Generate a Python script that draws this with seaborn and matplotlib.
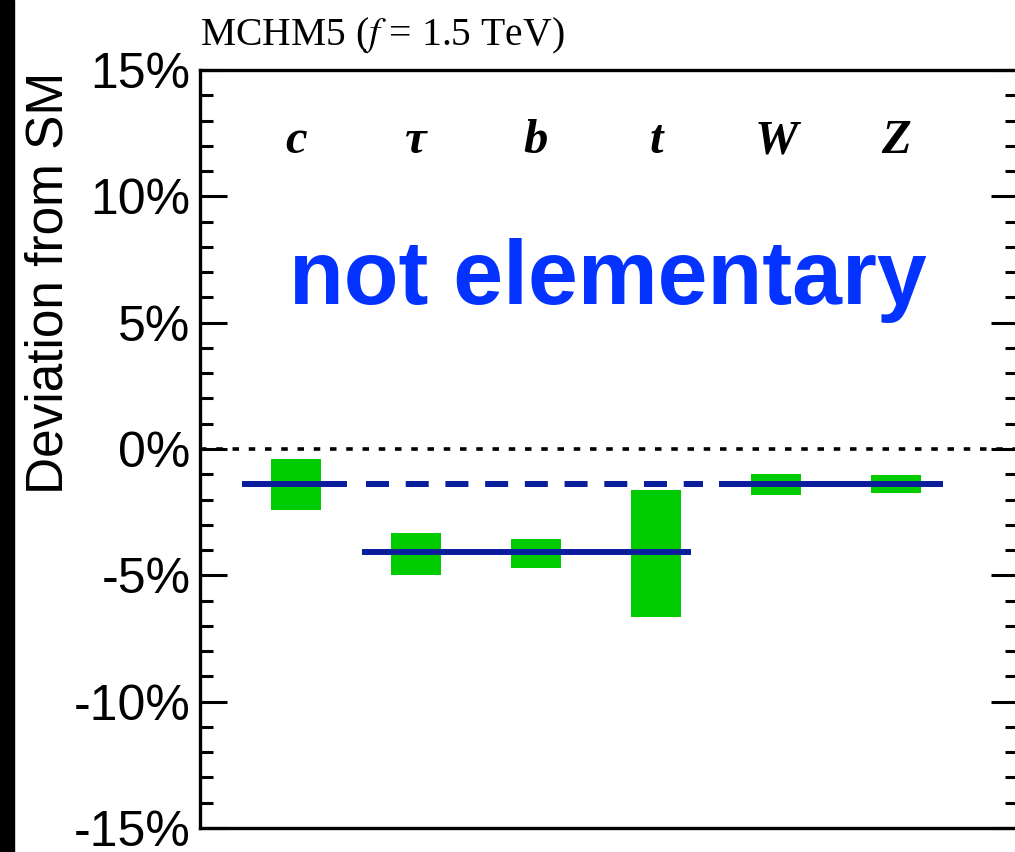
import matplotlib
matplotlib.use("Agg")
import matplotlib.pyplot as plt
from matplotlib.patches import Rectangle
from matplotlib.ticker import MultipleLocator, FuncFormatter
import seaborn as sns
import pandas as pd

# Coupling deviations from the Standard Model (percent), MCHM5 with f = 1.5 TeV
couplings = ["c", "τ", "b", "t", "W", "Z"]
range_top = [-0.40, -3.32, -3.56, -1.62, -0.99, -1.03]
range_bottom = [-2.41, -4.99, -4.70, -6.64, -1.82, -1.73]

# Model predictions: one universal shift and one shared by tau, b and t
pred_universal = -1.37
pred_third = -4.08

y_ticks = [-15, -10, -5, 0, 5, 10, 15]

sns.set_theme(style="ticks")
plt.rcParams["font.family"] = ["Liberation Sans", "DejaVu Sans"]
plt.rcParams["mathtext.fontset"] = "stix"

GREEN = "#00CC00"
LINE_BLUE = "#0A1E9C"
TEXT_BLUE = "#0433FF"

fig = plt.figure(figsize=(10.15, 8.52), dpi=100)
ax = fig.add_axes([200 / 1015, 1 - 828 / 852, 818 / 1015, 758 / 852])

df = pd.DataFrame({
    "coupling": couplings,
    "span": [t - b for t, b in zip(range_top, range_bottom)],
    "low": range_bottom,
})
sns.barplot(data=df, x="coupling", y="span", color=GREEN, saturation=1,
            width=0.41, ax=ax, zorder=2)
for patch, lo in zip(ax.patches, df["low"]):
    patch.set_y(lo)
    patch.set_edgecolor("none")

# SM reference
ax.axhline(0, color="black", lw=2.6, ls=(0, (1.8, 2.7)), zorder=1,
           dash_capstyle="butt")

# Prediction lines
lw_pred = 4.3
ax.hlines(pred_universal, 0 - 0.45, 0 + 0.425, color=LINE_BLUE, lw=lw_pred, zorder=3)
ax.hlines(pred_universal, 0 + 0.585, 3 + 0.39, color=LINE_BLUE, lw=lw_pred,
          linestyles=[(0, (3.85, 2.8))], zorder=3)
ax.hlines(pred_universal, 4 - 0.475, 5 + 0.39, color=LINE_BLUE, lw=lw_pred, zorder=3)
ax.hlines(pred_third, 1 - 0.45, 3 + 0.29, color=LINE_BLUE, lw=lw_pred, zorder=3)

# Coupling symbols
for i, name in enumerate(couplings):
    ax.text(i, 11.7, name, ha="center", va="baseline", fontsize=35,
            family=["Liberation Serif", "DejaVu Serif"], weight="bold",
            style="italic", color="black")

ax.text(2.6, 5.75, "not elementary", ha="center", va="baseline",
        fontsize=64.5, weight="bold", color=TEXT_BLUE)

ax.set_xlim(-0.8, 6.017)
ax.set_ylim(-15, 15)
ax.set_xlabel("")
ax.set_xticks([])
ax.set_yticks(y_ticks)
ax.yaxis.set_minor_locator(MultipleLocator(1))
ax.yaxis.set_major_formatter(FuncFormatter(lambda v, p: f"{v:.0f}%"))
ax.tick_params(axis="y", which="both", direction="in", left=True, right=True,
               labelleft=True, labelright=False, color="black", width=2.2)
ax.tick_params(axis="y", which="major", length=19.5, labelsize=36, pad=7,
               labelcolor="black")
ax.tick_params(axis="y", which="minor", length=9.5)
for sp in ax.spines.values():
    sp.set_visible(True)
    sp.set_linewidth(2.4)
    sp.set_color("black")

ax.set_ylabel("Deviation from SM", fontsize=37, color="black")
ax.yaxis.set_label_coords(-0.155, 0.719)

fig.text(200 / 1015, 1 - 45 / 852, r"MCHM5 ($f\ $= 1.5 TeV)", ha="left",
         va="baseline", fontsize=28.5, family=["Liberation Serif", "DejaVu Serif"],
         color="black")

# Dark strip along the left edge
fig.add_artist(Rectangle((0, 0), 14 / 1015, 1, transform=fig.transFigure,
                         color="black", zorder=10))

fig.savefig("out.png", dpi=100, facecolor="white")
